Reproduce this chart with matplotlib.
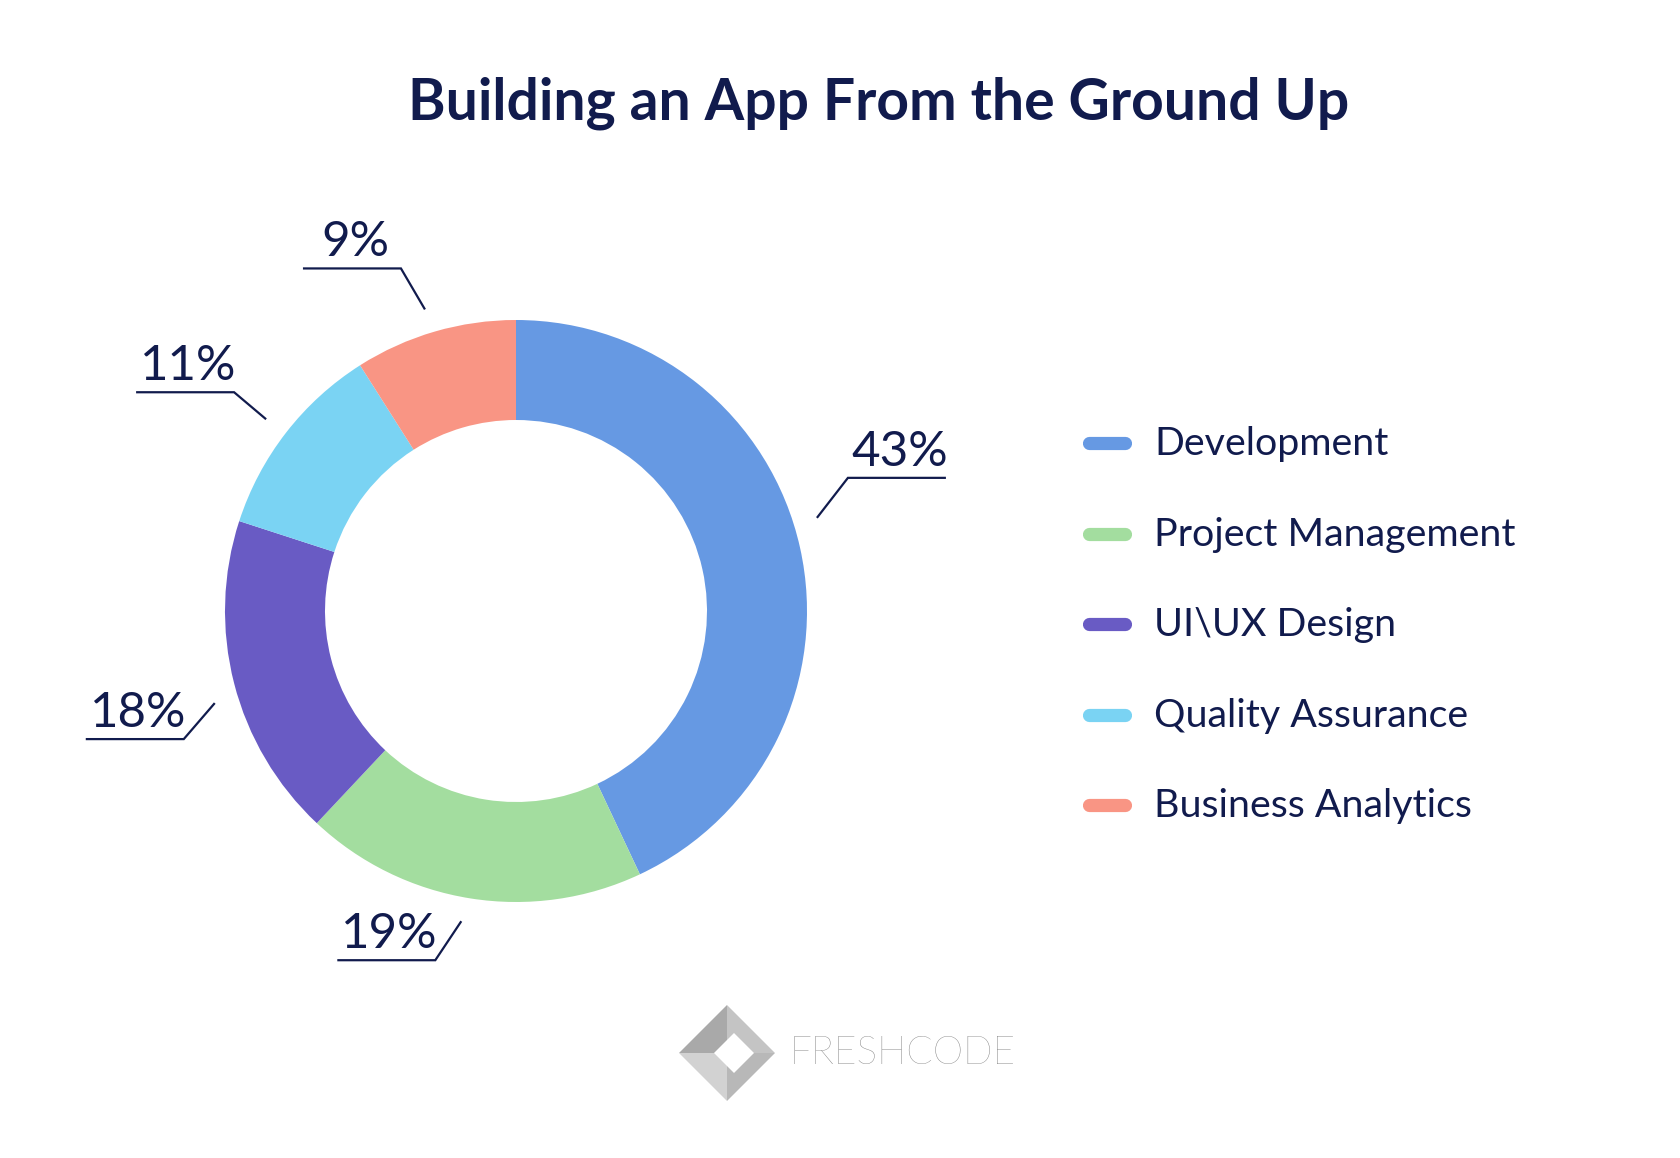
import numpy as np
import matplotlib
matplotlib.use('Agg')
import matplotlib.pyplot as plt
from matplotlib.patches import Polygon

# ---- data ----
categories = ["Development", "Project Management", "UI\\UX Design",
              "Quality Assurance", "Business Analytics"]
shares = [43, 19, 18, 11, 9]
pct_labels = ["43%", "19%", "18%", "11%", "9%"]
title = "Building an App From the Ground Up"
brand = "FRESHCODE"

# ---- style ----
colors = ["#6699E3", "#A3DD9F", "#695BC4", "#7AD3F3", "#F99584"]
NAVY = "#111B4D"
FONT = ["Lato", "DejaVu Sans"]

W, H = 1680, 1158
fig = plt.figure(figsize=(W / 100, H / 100), dpi=100)
ax = fig.add_axes([0, 0, 1, 1])

cx, cy = 516, 547
R, ring = 291, 100
wedges, _ = ax.pie(shares, colors=colors, startangle=90, counterclock=False,
                   center=(cx, cy), radius=R,
                   wedgeprops=dict(width=ring, linewidth=0))
ax.set_xlim(0, W)
ax.set_ylim(0, H)
ax.set_aspect('equal')
ax.axis('off')

# ---- leader labels (layout) ----
angle_nudge = [4.6, -1.0, 2.6, 0.3, 0.6]
elbow_off = [(31, 40), (-26, -39), (-31, -36), (-32, 27), (-24, 41)]
under_dir = [1, -1, -1, -1, -1]
r_end = 315
under_len = 98
for wdg, lab, nud, (ex, ey), d in zip(wedges, pct_labels, angle_nudge, elbow_off, under_dir):
    mid = np.deg2rad((wdg.theta1 + wdg.theta2) / 2 + nud)
    x0, y0 = cx + r_end * np.cos(mid), cy + r_end * np.sin(mid)
    x1, y1 = x0 + ex, y0 + ey
    x2 = x1 + d * under_len
    ax.plot([x0, x1, x2], [y0, y1, y1], color=NAVY, lw=1.6,
            solid_capstyle='butt', solid_joinstyle='miter')
    ax.text((x1 + x2) / 2 + 3, y1 + 12, lab, ha='center', va='baseline',
            fontsize=35.5, color=NAVY, family=FONT)

# ---- title ----
ax.text(879, 1038, title, ha='center', va='baseline', fontsize=41,
        fontweight='bold', color=NAVY, family=FONT)

# ---- legend ----
leg_y0, leg_dy = 715, 90.6
for i, (cat, col) in enumerate(zip(categories, colors)):
    y = leg_y0 - i * leg_dy
    ax.plot([1089, 1125], [y, y], color=col, lw=9.5, solid_capstyle='round')
    ax.text(1154, y - 12, cat, ha='left', va='baseline', fontsize=28.4,
            color=NAVY, family=FONT)

# ---- brand logo ----
lx, ly, hd = 727, 105, 48
top, right, bot, left = (lx, ly + hd), (lx + hd, ly), (lx, ly - hd), (lx - hd, ly)
c = (lx, ly)
for pts, fc in [([left, top, c], "#a9a9a9"), ([top, right, c], "#c4c4c4"),
                ([right, bot, c], "#b8b8b8"), ([bot, left, c], "#d2d2d2")]:
    ax.add_patch(Polygon(pts, closed=True, facecolor=fc, edgecolor='none'))
ix, iy, ih = lx + 7, ly, 20
ax.add_patch(Polygon([(ix, iy + ih), (ix + ih, iy), (ix, iy - ih), (ix - ih, iy)],
                     closed=True, facecolor='white', edgecolor='none'))
ax.text(789, ly, brand, ha='left', va='center', fontsize=28,
        fontweight='light', color="#7A7A7A", family=FONT)

fig.savefig("out.png", dpi=100, facecolor='white')
